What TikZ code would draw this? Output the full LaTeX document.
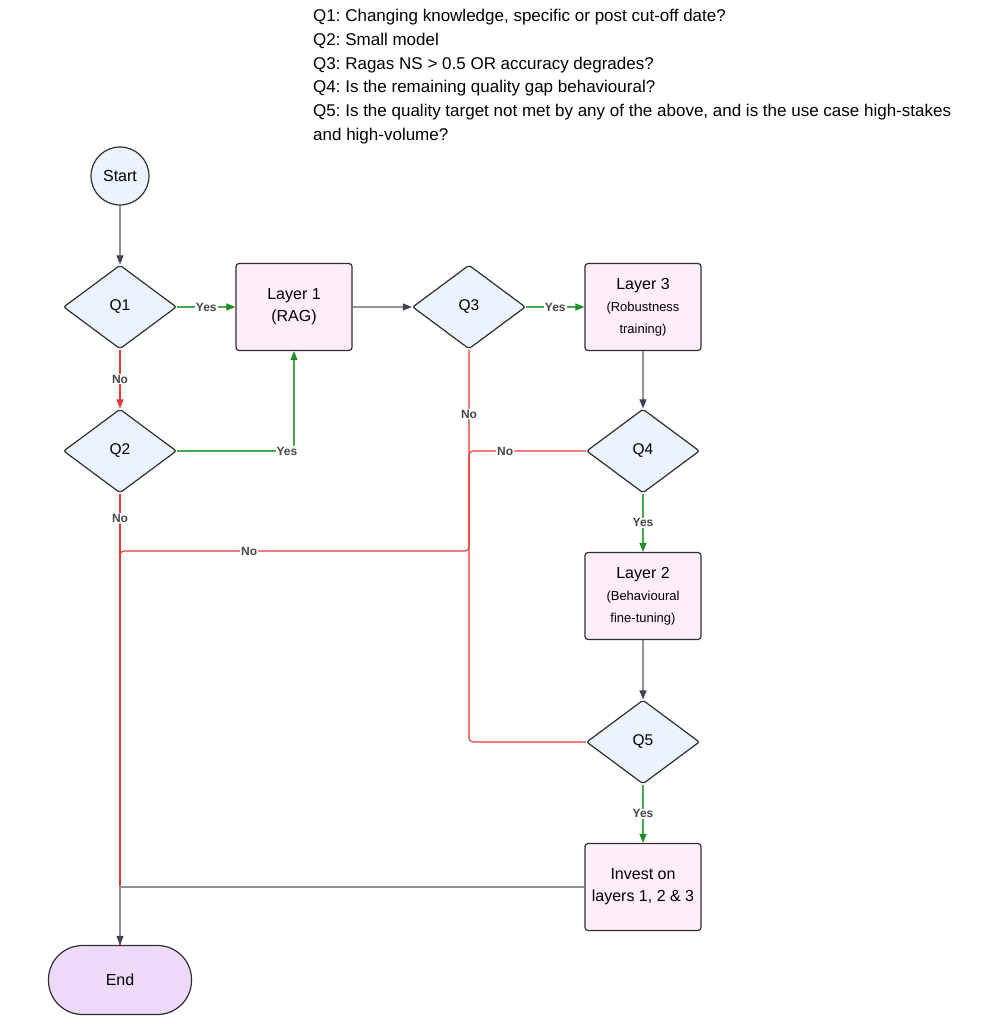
\documentclass[tikz,border=0pt]{standalone}
\usepackage{fontspec}
\setmainfont{Liberation Sans}
\usetikzlibrary{shapes.geometric,arrows.meta}
\definecolor{QFill}{HTML}{EBF3FE}
\definecolor{LFill}{HTML}{FDEEF9}
\definecolor{EndFill}{HTML}{F0DAFB}
\definecolor{Edge}{HTML}{2F2F2F}
\definecolor{LineGray}{HTML}{8E939B}
\definecolor{TipGray}{HTML}{3D4452}
\definecolor{YesGreen}{HTML}{47A84F}
\definecolor{TipGreen}{HTML}{1E8E24}
\definecolor{NoRed}{HTML}{E53935}
\definecolor{LblGray}{HTML}{474747}
\newcommand{\subtxt}{\fontsize{13}{19}\selectfont}
\frenchspacing

\begin{document}
\begin{tikzpicture}[x=1pt, y=-1pt,
    dec/.style={diamond, draw=Edge, fill=QFill, line width=1.2pt, rounded corners=2pt,
        aspect=1.35, minimum width=113pt, minimum height=84pt, inner sep=0pt,
        font=\fontsize{15.5}{18}\selectfont},
    layer/.style={rectangle, draw=Edge, fill=LFill, line width=1.2pt, rounded corners=3pt,
        minimum width=116pt, minimum height=87pt, inner sep=2pt, align=center,
        font=\fontsize{16}{22}\selectfont},
    lbl/.style={fill=white, inner sep=1pt, text=LblGray, font=\fontsize{12}{14}\selectfont\bfseries},
    gl/.style={draw=LineGray, line width=1.1pt, -{Triangle[length=9pt, width=7pt, color=TipGray]}},
    yl/.style={draw=YesGreen, line width=1.1pt, -{Triangle[length=9pt, width=7pt, color=TipGreen]}},
    nl/.style={draw=NoRed, line width=1.1pt, rounded corners=4pt}]
    \useasboundingbox (0,0) rectangle (1006,1024);

    % legend of the questions
    \node[anchor=north west, inner sep=0pt, align=left, font=\fontsize{17}{23.8}\selectfont] (legend) at (313,9)
        {Q1: Changing knowledge, specific or post cut-off date?\\
         Q2: Small model\\
         Q3: Ragas NS > 0.5 OR accuracy degrades?\\
         Q4: Is the remaining quality gap behavioural?\\
         Q5: Is the quality target not met by any of the above, and is the use case high-stakes\\
         and high-volume?};

    % nodes
    \node[circle, draw=Edge, fill=QFill, line width=1.2pt, minimum size=58pt, inner sep=0pt,
        font=\fontsize{16}{18}\selectfont] (start) at (120,176) {Start};
    \node[dec] (q1) at (120,307) {Q1};
    \node[dec] (q2) at (120,451) {Q2};
    \node[dec] (q3) at (469,307) {Q3};
    \node[dec] (q4) at (643,451) {Q4};
    \node[dec] (q5) at (643,742) {Q5};
    \node[layer] (l1) at (294,307) {Layer 1\\(RAG)};
    \node[layer] (l3) at (643,307) {Layer 3\\{\subtxt (Robustness}\\{\subtxt training)}};
    \node[layer] (l2) at (643,596) {Layer 2\\{\subtxt (Behavioural}\\{\subtxt fine-tuning)}};
    \node[layer] (inv) at (643,887) {Invest on\\layers 1, 2 \& 3};
    \node[rectangle, draw=Edge, fill=EndFill, line width=1.2pt, rounded corners=34pt,
        minimum width=143pt, minimum height=69pt, font=\fontsize{16}{18}\selectfont] (endn) at (120,980) {End};

    % bends of the "No" paths
    \coordinate (jn) at (120,551);
    \coordinate (jm) at (469,551);
    \coordinate (k4) at (jm |- q4);
    \coordinate (k5) at (jm |- q5);
    \coordinate (ki) at (120,887);

    % red paths first
    \draw[nl, -{Triangle[length=9pt, width=7pt, color=NoRed]}] (q1) -- node[lbl] (n1) {No} (q2);
    \draw[nl] (q2) -- node[lbl, pos=0.055] (n2) {No} (endn);
    \draw[nl] (q3) -- node[lbl, pos=0.32] (n3) {No} (jm) -- node[lbl, pos=0.63] (n6) {No} (jn) -- (endn);
    \draw[nl] (q4) -- node[lbl, pos=0.69] (n4) {No} (k4) -- (jm);
    \draw[nl] (q5) -- (k5) -- (jm);

    % green and gray paths
    \draw[gl] (start) -- (q1);
    \draw[yl] (q1) -- node[lbl] (y1) {Yes} (l1);
    \draw[gl] (l1) -- (q3);
    \draw[yl] (q3) -- node[lbl] (y3) {Yes} (l3);
    \draw[gl] (l3) -- (q4);
    \draw[yl] (q2) -| node[lbl, pos=0.47] (y2) {Yes} (l1);
    \draw[yl] (q4) -- node[lbl] (y4) {Yes} (l2);
    \draw[gl] (l2) -- (q5);
    \draw[yl] (q5) -- node[lbl] (y5) {Yes} (inv);
    \draw[gl] (inv) -- (ki) -- (endn);
\end{tikzpicture}
\end{document}
